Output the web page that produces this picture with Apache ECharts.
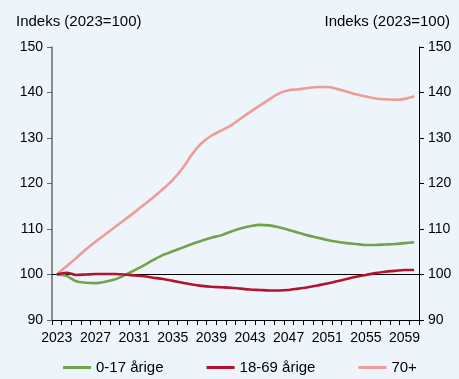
<!DOCTYPE html>
<html>
<head>
<meta charset="utf-8">
<script src="https://cdn.jsdelivr.net/npm/echarts@6/dist/echarts.min.js"></script>
<style>
html,body{margin:0;padding:0;background:#EEF5FA;}
#c{width:459px;height:379px;}
</style>
</head>
<body>
<div id="c"></div>
<script>
var years = [];
for (var y = 2023; y <= 2060; y++) years.push(String(y));

var age0_17 = [100,99.7,98.5,98.2,98.1,98.4,98.9,99.8,100.9,102.0,103.2,104.3,105.1,105.9,106.7,107.4,108.1,108.6,109.4,110.1,110.6,110.9,110.8,110.4,109.8,109.2,108.6,108.1,107.6,107.2,106.9,106.7,106.5,106.5,106.6,106.7,106.9,107.1];
var age18_69 = [100,100.4,99.9,100.0,100.1,100.1,100.1,100.0,99.8,99.6,99.3,99.0,98.6,98.2,97.8,97.5,97.3,97.2,97.1,96.9,96.7,96.6,96.5,96.5,96.6,96.9,97.2,97.6,98.0,98.5,99.0,99.5,99.9,100.3,100.6,100.8,101.0,101.0];
var age70 = [100,101.8,103.6,105.5,107.2,108.8,110.4,112.0,113.6,115.3,117.0,118.8,120.8,123.3,126.4,128.9,130.5,131.6,132.7,134.2,135.7,137.1,138.5,139.8,140.5,140.7,141.0,141.2,141.2,140.8,140.2,139.6,139.1,138.7,138.5,138.4,138.6,139.2];

var seriesNames = ['0-17 årige','18-69 årige','70+'];
var colors = ['#70A34B','#B3132F','#EE9C99'];
var axisTitle = 'Indeks (2023=100)';

var font = 'Liberation Sans, Arial, sans-serif';
var chart = echarts.init(document.getElementById('c'));

function mkSeries(name, data, color, z) {
  return {
    name: name, type: 'line', data: data, smooth: 0.3,
    symbol: 'none', z: z,
    lineStyle: {color: color, width: 2.6},
    itemStyle: {color: color}
  };
}

var s = [
  mkSeries(seriesNames[0], age0_17, colors[0], 3),
  mkSeries(seriesNames[1], age18_69, colors[1], 4),
  mkSeries(seriesNames[2], age70, colors[2], 2)
];
s[0].markLine = {
  silent: true, symbol: 'none', label: {show: false},
  lineStyle: {color: '#000', width: 1, type: 'solid'},
  data: [{yAxis: 100}], z: 1
};

chart.setOption({
  backgroundColor: '#EEF5FA',
  animation: false,
  title: [
    {text: axisTitle, left: 11, top: 9, textStyle: {fontFamily: font, fontSize: 15, fontWeight: 'normal', color: '#000'}},
    {text: axisTitle, right: 4, top: 9, textStyle: {fontFamily: font, fontSize: 15, fontWeight: 'normal', color: '#000'}}
  ],
  grid: {left: 52, right: 40, top: 47, bottom: 59},
  legend: {
    top: 355, left: 58, itemWidth: 28, itemHeight: 3, itemGap: 43,
    icon: 'rect',
    textStyle: {fontFamily: font, fontSize: 15, color: '#000'},
    data: seriesNames
  },
  xAxis: {
    type: 'category', data: years, boundaryGap: true,
    axisLine: {lineStyle: {color: '#000', width: 1}},
    axisTick: {show: true, interval: 0, length: 5, lineStyle: {color: '#000'}},
    axisLabel: {interval: 3, margin: 11, fontFamily: font, fontSize: 14, color: '#000'},
    splitLine: {show: false}
  },
  yAxis: [
    {type: 'value', min: 90, max: 150, interval: 10, position: 'left',
     axisLine: {show: true, lineStyle: {color: '#666', width: 1.5}},
     axisTick: {show: true, length: 5, lineStyle: {color: '#666'}},
     axisLabel: {fontFamily: font, fontSize: 14, color: '#000', margin: 9},
     splitLine: {show: false}},
    {type: 'value', min: 90, max: 150, interval: 10, position: 'right',
     axisLine: {show: true, lineStyle: {color: '#000', width: 1}},
     axisTick: {show: true, length: 5, lineStyle: {color: '#000'}},
     axisLabel: {fontFamily: font, fontSize: 14, color: '#000', margin: 9},
     splitLine: {show: false}}
  ],
  series: s
});
</script>
</body>
</html>
